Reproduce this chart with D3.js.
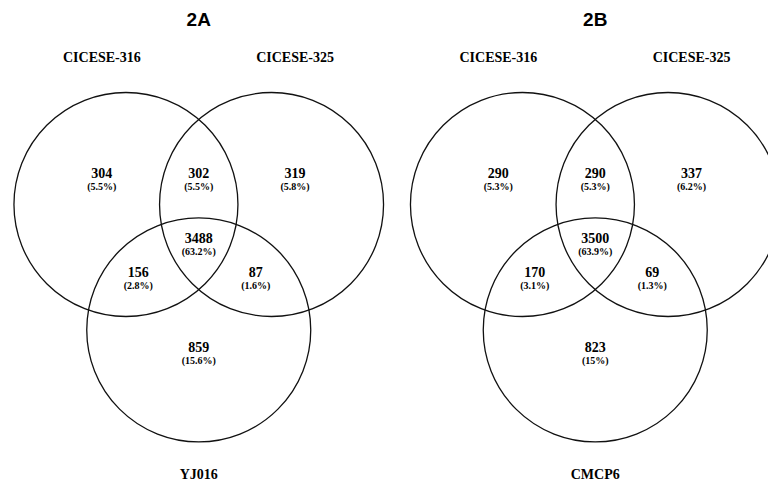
<!DOCTYPE html>
<html>
<head>
<meta charset="utf-8">
<script src="https://cdn.jsdelivr.net/npm/d3@7"></script>
<style>
	body { margin: 0; background: #fff; }
	svg { display: block; }
	.title { font-family: "Liberation Sans", Arial, sans-serif; font-weight: bold; font-size: 19px; }
	.set-name { font-family: "Liberation Serif", "Times New Roman", serif; font-weight: bold; font-size: 14px; }
	.count { font-family: "Liberation Serif", "Times New Roman", serif; font-weight: bold; font-size: 14px; }
	.pct { font-family: "Liberation Serif", "Times New Roman", serif; font-weight: bold; font-size: 10px; }
	circle { fill: none; stroke: #111; stroke-width: 1.3; }
</style>
</head>
<body>
<div class="venn"></div>
<script>
// data
const panels = ["2A", "2B"];
const setNames = [
	["CICESE-316", "CICESE-325", "YJ016"],
	["CICESE-316", "CICESE-325", "CMCP6"]
];
const regions = ["A", "AB", "B", "ABC", "AC", "BC", "C"];
const counts2A = [304, 302, 319, 3488, 156, 87, 859];
const pcts2A = ["5.5%", "5.5%", "5.8%", "63.2%", "2.8%", "1.6%", "15.6%"];
const counts2B = [290, 290, 337, 3500, 170, 69, 823];
const pcts2B = ["5.3%", "5.3%", "6.2%", "63.9%", "3.1%", "1.3%", "15%"];

const counts = [counts2A, counts2B];
const pcts = [pcts2A, pcts2B];

// layout, in units of one circle radius
const circleCenters = [[-0.65, 0], [0.65, 0], [0, 1.12]];
const regionAnchors = {
	A: [-0.865, -0.219], AB: [0, -0.219], B: [0.86, -0.219],
	ABC: [0, 0.353], AC: [-0.54, 0.665], BC: [0.51, 0.665], C: [0, 1.326]
};

const svg = d3.select(".venn")
	.append("svg")
	.attr("width", 768)
	.attr("height", 484);

const radius = 112;
const topY = 204.5;
const panelX = d3.scalePoint().domain(panels).range([198.75, 595.25]);

panels.forEach((panel, i) => {
	const cx = panelX(panel);
	const x = d3.scaleLinear().domain([-1, 1]).range([cx - radius, cx + radius]);
	const y = d3.scaleLinear().domain([-1, 1]).range([topY - radius, topY + radius]);

	const g = svg.append("g").attr("class", "panel");

	g.append("text")
		.attr("class", "title")
		.attr("x", cx)
		.attr("y", 25.5)
		.attr("text-anchor", "middle")
		.text(panel);

	g.selectAll("circle")
		.data(circleCenters).enter()
		.append("circle")
		.attr("cx", (d) => x(d[0]))
		.attr("cy", (d) => y(d[1]))
		.attr("r", x(1) - x(0));

	// set names: two on top, one below
	const namePos = [[x(-0.865), 61.5], [x(0.86), 61.5], [x(0), 479]];
	g.selectAll(".set-name")
		.data(setNames[i]).enter()
		.append("text")
		.attr("class", "set-name")
		.attr("text-anchor", "middle")
		.attr("x", (d, k) => namePos[k][0])
		.attr("y", (d, k) => namePos[k][1])
		.text((d) => d);

	const labels = g.selectAll(".region")
		.data(regions.map((r, k) => ({ r, n: counts[i][k], p: pcts[i][k] })))
		.enter()
		.append("g")
		.attr("class", "region")
		.attr("transform", (d) => `translate(${x(regionAnchors[d.r][0])}, ${y(regionAnchors[d.r][1])})`);

	labels.append("text")
		.attr("class", "count")
		.attr("text-anchor", "middle")
		.attr("dy", -1.5)
		.text((d) => d.n);

	labels.append("text")
		.attr("class", "pct")
		.attr("text-anchor", "middle")
		.attr("dy", 10.5)
		.text((d) => `(${d.p})`);
});
</script>
</body>
</html>
